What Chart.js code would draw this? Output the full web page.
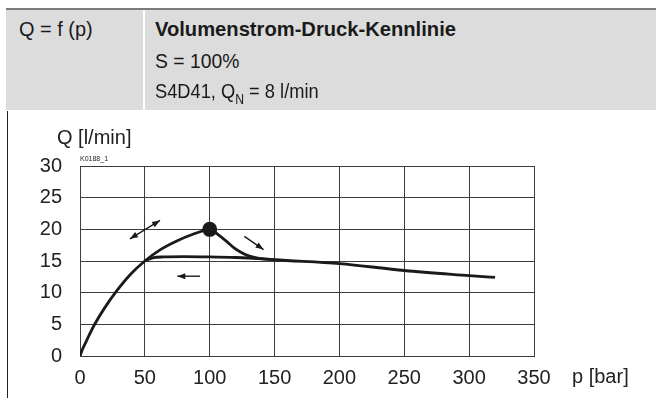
<!DOCTYPE html>
<html>
<head>
<meta charset="utf-8">
<script src="https://cdn.jsdelivr.net/npm/chart.js@4.4.1/dist/chart.umd.min.js"></script>
<style>
  html, body { margin: 0; padding: 0; background: #fff; }
  body { width: 656px; height: 400px; position: relative; overflow: hidden; }
  #chart { position: absolute; left: 0; top: 0; }
  .head {
    position: absolute; left: 6px; top: 8px; width: 650px; height: 102px;
    background: #dcdcdc; border-top: 2px solid #7a7a7a; box-sizing: border-box;
    font-family: "Liberation Sans", Arial, sans-serif;
    font-size: 21px; color: #1a1a1a;
  }
  .divider { position: absolute; left: 137px; top: 0; width: 2px; height: 100%; background: #fff; }
  .t { position: absolute; white-space: nowrap; line-height: 24px; transform-origin: 0 50%; }
  .panel { position: absolute; left: 7px; top: 111px; width: 1px; height: 287px; background: #222; }
</style>
</head>
<body>
<canvas id="chart" width="656" height="400"></canvas>
<div class="head">
  <div class="divider"></div>
  <div class="t" style="left:13px; top:7px; transform:scaleX(0.95);">Q = f (p)</div>
  <div class="t" style="left:149px; top:7px; font-weight:bold; transform:scaleX(0.96);">Volumenstrom-Druck-Kennlinie</div>
  <div class="t" style="left:149px; top:39px; transform:scaleX(0.92);">S = 100%</div>
  <div class="t" style="left:149px; top:69px; transform:scaleX(0.87);">S4D41, Q<sub style="font-size:14px; vertical-align:-6px;">N</sub> = 8 l/min</div>
</div>
<div class="panel"></div>
<script>
  // axis ticks
  const xTicks = [0, 50, 100, 150, 200, 250, 300, 350];
  const yTicks = [0, 5, 10, 15, 20, 25, 30];

  // rising branch, p [bar] -> Q [l/min]
  const riseP = [0, 2, 5, 11, 19, 28, 39, 50, 62, 75, 88, 100];
  const riseQ = [0, 1.1, 2.4, 4.9, 7.6, 10.2, 12.9, 15, 16.8, 18.2, 19.3, 20.1];

  // drop after the switch point, then falling line to 320 bar
  const dropP = [100, 107, 113, 118, 123, 130, 138, 150, 200, 250, 300, 320];
  const dropQ = [20.1, 19.1, 18.1, 17.2, 16.5, 15.8, 15.4, 15.2, 14.6, 13.5, 12.7, 12.4];

  // return branch (flat)
  const flatP = [50, 56, 65, 80, 100, 120, 140, 150];
  const flatQ = [15, 15.5, 15.65, 15.7, 15.65, 15.55, 15.35, 15.2];

  // switch point
  const dotP = [100];
  const dotQ = [20];

  // direction arrows [p1, q1, p2, q2, heads]  heads: 1 = end, 2 = both
  const arrows = [
    [38.5, 18.5, 61.7, 21.4, 2],
    [126.7, 18.9, 141.5, 16.8, 1],
    [92.5, 12.6, 75, 12.6, 1]
  ];

  const toXY = (ps, qs) => ps.map((p, i) => ({ x: p, y: qs[i] }));

  const FONT = '"Liberation Sans", Arial, sans-serif';
  const INK = '#1a1a1a';
  const GRID = '#3c3c3c';

  function head(ctx, x1, y1, x2, y2) {
    const a = Math.atan2(y2 - y1, x2 - x1);
    const len = 8, w = 3;
    ctx.beginPath();
    ctx.moveTo(x2, y2);
    ctx.lineTo(x2 - len * Math.cos(a) + w * Math.sin(a), y2 - len * Math.sin(a) - w * Math.cos(a));
    ctx.lineTo(x2 - len * Math.cos(a) - w * Math.sin(a), y2 - len * Math.sin(a) + w * Math.cos(a));
    ctx.closePath();
    ctx.fill();
  }

  const extras = {
    id: 'extras',
    afterDatasetsDraw(chart) {
      const { ctx, scales: { x, y } } = chart;
      ctx.save();
      ctx.strokeStyle = INK;
      ctx.fillStyle = INK;
      ctx.lineWidth = 1.4;
      for (const a of arrows) {
        const x1 = x.getPixelForValue(a[0]), y1 = y.getPixelForValue(a[1]);
        const x2 = x.getPixelForValue(a[2]), y2 = y.getPixelForValue(a[3]);
        ctx.beginPath();
        ctx.moveTo(x1, y1);
        ctx.lineTo(x2, y2);
        ctx.stroke();
        head(ctx, x1, y1, x2, y2);
        if (a[4] === 2) head(ctx, x2, y2, x1, y1);
      }
      // axis titles and drawing number
      ctx.fillStyle = '#222';
      ctx.textBaseline = 'middle';
      ctx.font = '20px ' + FONT;
      ctx.textAlign = 'left';
      ctx.fillText('Q [l/min]', 57, 138);
      ctx.fillText('p [bar]', 572, 377);
      ctx.font = '7px ' + FONT;
      ctx.fillText('K0188_1', 80, 159);
      ctx.restore();
    }
  };

  new Chart(document.getElementById('chart'), {
    type: 'scatter',
    data: {
      datasets: [
        { data: toXY(riseP, riseQ), showLine: true, borderColor: INK, borderWidth: 2.8, pointRadius: 0, tension: 0.4 },
        { data: toXY(dropP, dropQ), showLine: true, borderColor: INK, borderWidth: 2.8, pointRadius: 0, cubicInterpolationMode: 'monotone' },
        { data: toXY(flatP, flatQ), showLine: true, borderColor: INK, borderWidth: 2.8, pointRadius: 0, cubicInterpolationMode: 'monotone' },
        { data: toXY(dotP, dotQ), pointRadius: 7.5, pointBackgroundColor: INK, pointBorderWidth: 0 }
      ]
    },
    options: {
      responsive: false,
      animation: false,
      events: [],
      layout: { padding: { left: 0, top: 166, right: 122, bottom: 0 } },
      plugins: { legend: { display: false }, tooltip: { enabled: false } },
      scales: {
        x: {
          type: 'linear', min: 0, max: 350,
          afterBuildTicks: s => { s.ticks = xTicks.map(v => ({ value: v })); },
          afterFit: s => { s.height = 44; },
          ticks: { color: '#222', font: { family: FONT, size: 20 }, padding: 10, maxRotation: 0 },
          grid: { color: GRID, lineWidth: 1, drawTicks: false },
          border: { color: GRID, width: 1 }
        },
        y: {
          min: 0, max: 30,
          afterBuildTicks: s => { s.ticks = yTicks.map(v => ({ value: v })); },
          afterFit: s => { s.width = 80; },
          ticks: { color: '#222', font: { family: FONT, size: 20 }, padding: 18 },
          grid: { color: GRID, lineWidth: 1, drawTicks: false },
          border: { color: GRID, width: 1 }
        }
      }
    },
    plugins: [extras]
  });
</script>
</body>
</html>
